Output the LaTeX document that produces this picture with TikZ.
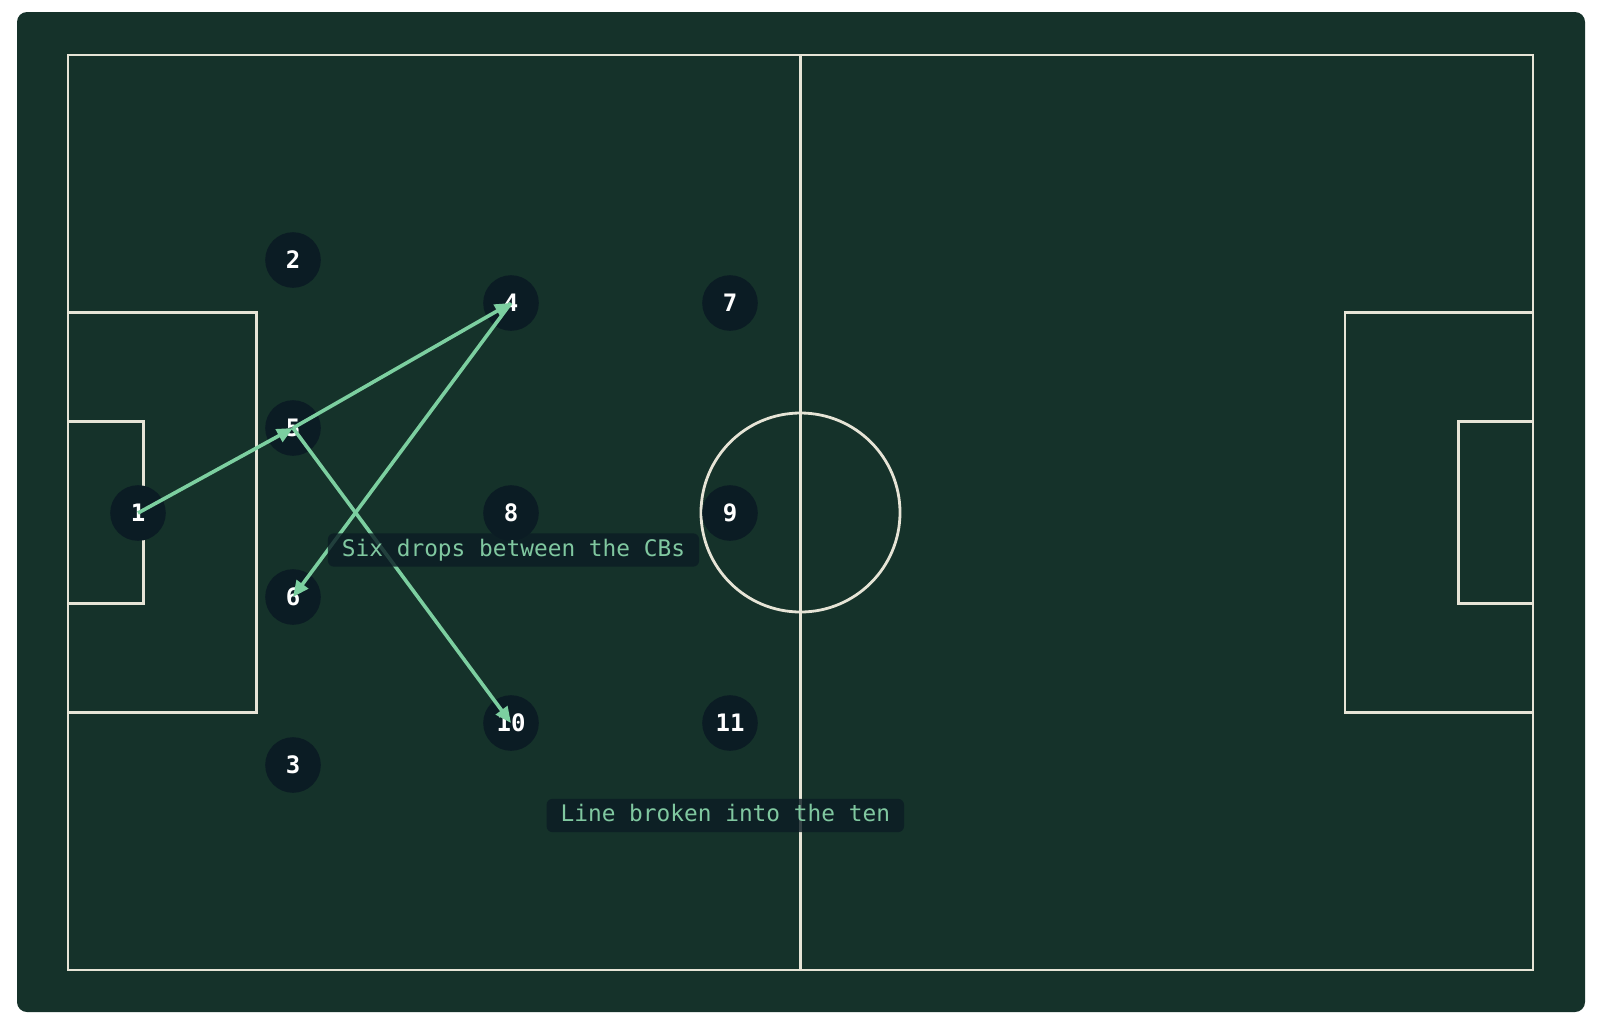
\documentclass[tikz,border=0pt]{standalone}
\usepackage{fontspec}
\setmonofont{DejaVu Sans Mono}
\usetikzlibrary{arrows.meta}
\definecolor{pitchgreen}{HTML}{15322A}
\definecolor{chalk}{HTML}{E6E4D6}
\definecolor{shirt}{HTML}{0B1C24}
\definecolor{passmint}{HTML}{7CCFA0}
\definecolor{notemint}{HTML}{80C8A0}
\begin{document}
\begin{tikzpicture}[x=0.5pt,y=-0.5pt]
			\tikzset{spieler/.style={circle, fill=shirt, minimum size=27.8pt, inner sep=0, text=white, font=\ttfamily\bfseries\fontsize{12}{12}\selectfont},
				linie/.style={draw=chalk, line width=1.4pt},
				pass/.style={draw=passmint, line width=1.8pt, -{Triangle[length=8pt,width=7pt]}},
				notiz/.style={fill=shirt, fill opacity=0.8, text opacity=1, text=notemint, rounded corners=3pt, inner xsep=7pt, minimum height=15.5pt, text height=8pt, text depth=2pt, font=\ttfamily\fontsize{11.4}{12}\selectfont}}
			\fill[white] (0,0) rectangle (1600,1029);
			\useasboundingbox (0,0) rectangle (1600,1029);
			\fill[pitchgreen, rounded corners=5pt] (17,12) rectangle (1585,1012);

			% Pitch markings
			\draw[linie] (68,55) rectangle (1533,970);
			\draw[linie] (800.5,55) -- (800.5,970);
			\draw[linie] (800.5,512.5) circle [radius=49.75pt];
			\draw[linie] (68,312.7) rectangle (256.7,712.7);
			\draw[linie] (68,421.7) rectangle (143.3,603.3);
			\draw[linie] (1345,312.7) rectangle (1533,712.7);
			\draw[linie] (1458.3,421.7) rectangle (1533,603.3);

			% Players
			\node[spieler] at (138,513) (p1) {1};
			\node[spieler] at (293,260) (p2) {2};
			\node[spieler] at (293,765) (p3) {3};
			\node[spieler] at (511,303) (p4) {4};
			\node[spieler] at (293,428) (p5) {5};
			\node[spieler] at (293,597) (p6) {6};
			\node[spieler] at (730,303) (p7) {7};
			\node[spieler] at (511,513) (p8) {8};
			\node[spieler] at (730,513) (p9) {9};
			\node[spieler] at (511,723) (p10) {10};
			\node[spieler] at (730,723) (p11) {11};

			% Passes
			\draw[pass] (p1.center) -- (p5.center);
			\draw[pass] (p5.center) -- (p4.center);
			\draw[pass] (p4.center) -- (p6.center);
			\draw[pass] (p5.center) -- (p10.center);

			% Notes
			\node[notiz] at (513.5,550) (n1) {Six drops between the CBs};
			\node[notiz] at (725.3,815.5) (n2) {Line broken into the ten};
		\end{tikzpicture}
\end{document}
